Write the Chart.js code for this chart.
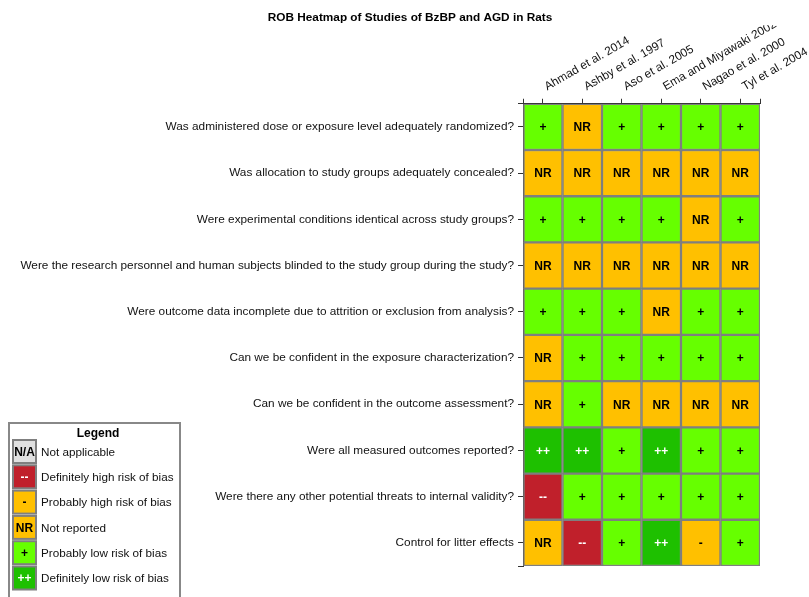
<!DOCTYPE html>
<html>
<head>
<meta charset="utf-8">
<script src="https://cdn.jsdelivr.net/npm/chart.js@4/dist/chart.umd.min.js"></script>
<style>
html, body { margin: 0; padding: 0; background: #fff; }
#wrap { width: 809px; height: 597px; position: relative; }
</style>
</head>
<body>
<div id="wrap"><canvas id="rob"></canvas></div>
<script>
// Risk-of-bias questions (rows) and studies (columns)
var questions = [
    'Was administered dose or exposure level adequately randomized?',
    'Was allocation to study groups adequately concealed?',
    'Were experimental conditions identical across study groups?',
    'Were the research personnel and human subjects blinded to the study group during the study?',
    'Were outcome data incomplete due to attrition or exclusion from analysis?',
    'Can we be confident in the exposure characterization?',
    'Can we be confident in the outcome assessment?',
    'Were all measured outcomes reported?',
    'Were there any other potential threats to internal validity?',
    'Control for litter effects'
];
var studies = ['Ahmad et al. 2014', 'Ashby et al. 1997', 'Aso et al. 2005', 'Ema and Miyawaki 2002', 'Nagao et al. 2000', 'Tyl et al. 2004'];

// Ratings per study, one entry per question
var ahmad = ['+', 'NR', '+', 'NR', '+', 'NR', 'NR', '++', '--', 'NR'];
var ashby = ['NR', 'NR', '+', 'NR', '+', '+', '+', '++', '+', '--'];
var aso = ['+', 'NR', '+', 'NR', '+', '+', 'NR', '+', '+', '+'];
var ema = ['+', 'NR', '+', 'NR', 'NR', '+', 'NR', '++', '+', '++'];
var nagao = ['+', 'NR', 'NR', 'NR', '+', '+', 'NR', '+', '+', '-'];
var tyl = ['+', 'NR', '+', 'NR', '+', '+', 'NR', '+', '+', '+'];
var ratingsByStudy = [ahmad, ashby, aso, ema, nagao, tyl];

// Legend entries
var legendCodes = ['N/A', '--', '-', 'NR', '+', '++'];
var legendLabels = ['Not applicable', 'Definitely high risk of bias', 'Probably high risk of bias', 'Not reported', 'Probably low risk of bias', 'Definitely low risk of bias'];

var ratingColors = { 'N/A': '#e0e0e0', '--': '#c0202b', '-': '#ffc000', 'NR': '#ffc000', '+': '#66ff00', '++': '#1ec000' };
var lightText = { '--': true, '++': true };
var cellBorder = '#7f7f7f';
var FONT = '"Liberation Sans", Arial, Helvetica, sans-serif';

Chart.defaults.font.family = FONT;
Chart.defaults.font.size = 11.8;
Chart.defaults.color = '#111';

// Writes the rating code in the middle of each cell
var cellLabels = {
    id: 'cellLabels',
    afterDatasetsDraw: function(chart) {
        var ctx = chart.ctx;
        ctx.save();
        ctx.textAlign = 'center';
        ctx.textBaseline = 'middle';
        ctx.font = 'bold 12px ' + FONT;
        chart.data.datasets.forEach(function(ds, i) {
            chart.getDatasetMeta(i).data.forEach(function(bar, j) {
                var code = ds.ratings[j];
                var p = bar.getCenterPoint();
                ctx.fillStyle = lightText[code] ? '#fff' : '#000';
                ctx.fillText(code, p.x, p.y + 1);
            });
        });
        ctx.restore();
    }
};

// Boxed key in the lower left corner
var ratingKey = {
    id: 'ratingKey',
    afterDraw: function(chart) {
        var ctx = chart.ctx;
        ctx.save();
        ctx.strokeStyle = '#888';
        ctx.lineWidth = 2;
        ctx.strokeRect(9, 423, 171, 180);
        ctx.fillStyle = '#000';
        ctx.textAlign = 'center';
        ctx.textBaseline = 'middle';
        ctx.font = 'bold 12px ' + FONT;
        ctx.fillText('Legend', 98, 434);
        for (var i = 0; i < legendCodes.length; i++) {
            var code = legendCodes[i];
            var top = 440 + i * 25.3;
            ctx.fillStyle = ratingColors[code];
            ctx.fillRect(13, top, 23, 23);
            ctx.strokeStyle = cellBorder;
            ctx.lineWidth = 2;
            ctx.strokeRect(13, top, 23, 23);
            ctx.textAlign = 'center';
            ctx.font = 'bold 12px ' + FONT;
            ctx.fillStyle = lightText[code] ? '#fff' : '#000';
            ctx.fillText(code, 24.5, top + 12.5);
            ctx.textAlign = 'left';
            ctx.font = '11.7px ' + FONT;
            ctx.fillStyle = '#111';
            ctx.fillText(legendLabels[i], 41, top + 12.5);
        }
        ctx.restore();
    }
};

new Chart(document.getElementById('rob'), {
    type: 'bar',
    data: {
        labels: questions,
        datasets: studies.map(function(name, i) {
            return {
                label: name,
                data: questions.map(function() { return 1; }),
                ratings: ratingsByStudy[i],
                backgroundColor: ratingsByStudy[i].map(function(r) { return ratingColors[r]; }),
                borderColor: cellBorder,
                borderWidth: 1.5,
                borderSkipped: false,
                barThickness: 'flex',
                barPercentage: 1,
                categoryPercentage: 1
            };
        })
    },
    options: {
        indexAxis: 'y',
        responsive: true,
        maintainAspectRatio: false,
        animation: false,
        layout: { padding: { top: 0, right: 0, bottom: 31, left: 11 } },
        plugins: {
            legend: { display: false },
            tooltip: { enabled: false },
            title: {
                display: true,
                text: 'ROB Heatmap of Studies of BzBP and AGD in Rats',
                color: '#000',
                font: { size: 11.8, weight: 'bold' },
                padding: { top: 11, bottom: 0 }
            }
        },
        scales: {
            x: {
                type: 'linear',
                position: 'top',
                stacked: true,
                min: 0,
                max: studies.length,
                afterBuildTicks: function(scale) {
                    var t = [{ value: 0 }];
                    studies.forEach(function(s, i) { t.push({ value: i + 0.5 }); });
                    t.push({ value: studies.length });
                    scale.ticks = t;
                },
                afterFit: function(scale) {
                    scale.height = 78.6;
                    scale.paddingRight = 49;
                },
                ticks: {
                    autoSkip: false,
                    minRotation: 30,
                    maxRotation: 30,
                    padding: 5,
                    labelOffset: 10,
                    color: '#111',
                    callback: function(v) {
                        var i = v - 0.5;
                        return (Number.isInteger(i) && studies[i]) ? studies[i] : '';
                    }
                },
                grid: { drawOnChartArea: false, tickLength: 5, color: '#333' },
                border: { color: '#333', width: 1 }
            },
            y: {
                type: 'category',
                stacked: true,
                afterBuildTicks: function(scale) {
                    var t = [{ value: -0.5 }];
                    questions.forEach(function(q, i) { t.push({ value: i }); });
                    t.push({ value: questions.length - 0.5 });
                    scale.ticks = t;
                },
                afterFit: function(scale) { scale.width = 512; },
                ticks: {
                    autoSkip: false,
                    padding: 4,
                    color: '#111',
                    callback: function(v) {
                        return Number.isInteger(v) ? questions[v] : '';
                    }
                },
                grid: { drawOnChartArea: false, offset: false, tickLength: 5, color: '#333' },
                border: { color: '#333', width: 1 }
            }
        }
    },
    plugins: [cellLabels, ratingKey]
});
</script>
</body>
</html>
